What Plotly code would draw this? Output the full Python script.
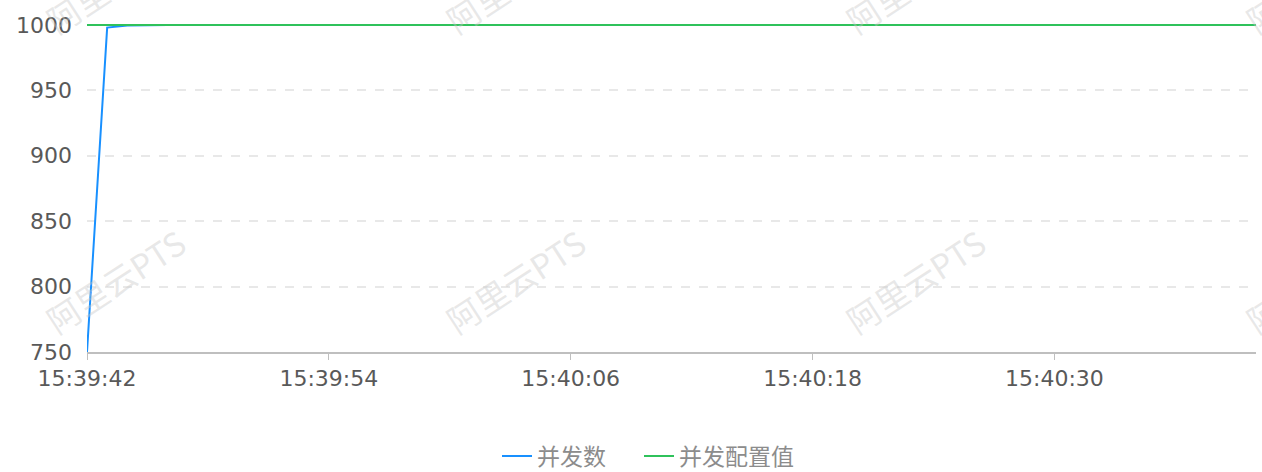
import plotly.graph_objects as go
import pandas as pd

# ---- data ----
start = "2024-01-01 15:39:42"
n_seconds = 59  # 15:39:42 .. 15:40:40
times = list(pd.date_range(start, periods=n_seconds, freq="1s"))
concurrency_head = [750, 998, 999.5]
concurrency = concurrency_head + [1000] * (n_seconds - len(concurrency_head))
configured = [1000] * n_seconds

series_names = ["并发数", "并发配置值"]
y_ticks = [750, 800, 850, 900, 950, 1000]
y_range = [750, 1001.5]
watermark_text = "阿里云PTS"

# ---- layout geometry (pixels) ----
W, H = 1262, 472
L, R, T, B = 87, 6, 23, 120
pw, ph = W - L - R, H - T - B

def px(xp):
    return (xp - L) / pw

def py(yp):
    return (H - B - yp) / ph

fig = go.Figure()
fig.add_trace(go.Scatter(x=times, y=concurrency, name=series_names[0], mode="lines",
                         line=dict(color="#1890ff", width=2), legend="legend"))
fig.add_trace(go.Scatter(x=times, y=configured, name=series_names[1], mode="lines",
                         line=dict(color="#2fc25b", width=2), legend="legend2"))

annotations = []
for cx in [115, 515, 915, 1315]:
    for cy in [281, -19]:
        annotations.append(dict(
            x=px(cx), y=py(cy), xref="paper", yref="paper", text=watermark_text,
            showarrow=False, textangle=-33,
            font=dict(size=33, color="rgba(200,200,200,0.42)",
                      family="Noto Sans CJK SC, DejaVu Sans"),
            xanchor="center", yanchor="middle"))

legend_font = dict(size=23, color="#8c8c8c", family="Noto Sans CJK SC, DejaVu Sans")

fig.update_layout(
    width=W, height=H,
    margin=dict(l=L, r=R, t=T, b=B, autoexpand=False),
    paper_bgcolor="white", plot_bgcolor="white",
    font=dict(family="DejaVu Sans, Noto Sans CJK SC", size=22, color="#595959"),
    showlegend=True,
    legend=dict(orientation="h", x=px(497), xanchor="left", y=py(456), yanchor="middle",
                font=legend_font, itemwidth=30, bgcolor="rgba(0,0,0,0)"),
    legend2=dict(orientation="h", x=px(639), xanchor="left", y=py(456), yanchor="middle",
                 font=legend_font, itemwidth=30, bgcolor="rgba(0,0,0,0)"),
    annotations=annotations,
    xaxis=dict(
        type="date",
        range=[times[0], times[-1]],
        tickformat="%H:%M:%S",
        dtick=12000,
        tick0=times[0],
        showgrid=False,
        showline=True, linecolor="#bfbfbf", linewidth=2,
        ticks="outside", ticklen=6, tickcolor="#bfbfbf", tickwidth=1,
        tickfont=dict(size=22, color="#595959"),
        zeroline=False,
        fixedrange=True,
    ),
    yaxis=dict(
        range=y_range,
        tickvals=y_ticks,
        showgrid=True, gridcolor="#e8e8e8", griddash="dash", gridwidth=1.5,
        showline=False, zeroline=False,
        ticks="", ticklabelstandoff=14,
        tickfont=dict(size=22, color="#595959"),
        fixedrange=True,
    ),
)

fig.write_html("out.html", config={"displayModeBar": False},
               post_script="document.body.style.margin='0';document.body.style.overflow='hidden';")
